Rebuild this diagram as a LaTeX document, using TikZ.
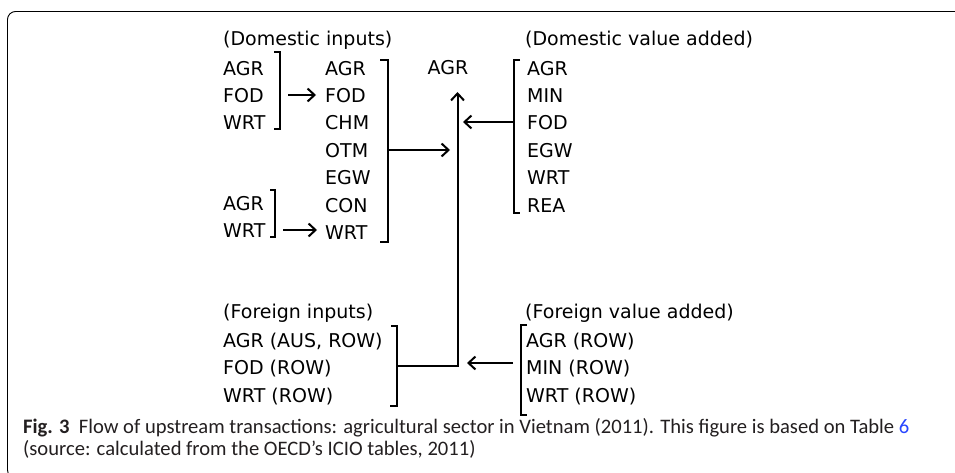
\documentclass[tikz,border=0pt]{standalone}
\usepackage{fontspec}
\setmainfont{DejaVu Sans}
\newfontfamily\capfont{Carlito}
\usetikzlibrary{arrows.meta,positioning}
\definecolor{captext}{RGB}{35,31,32}
\definecolor{linkblue}{RGB}{40,70,255}

\begin{document}
\begin{tikzpicture}[x=1pt, y=1pt, >={Straight Barb[length=7pt,width=13pt]},
  font=\fontsize{19}{22}\selectfont, node distance=9pt and 0pt,
  item/.style={inner sep=0pt, text height=14pt, text depth=4pt, anchor=north west},
  head/.style={inner sep=0pt, anchor=base west},
  capline/.style={inner sep=0pt, anchor=base west, text=captext, font=\capfont\fontsize{20.6}{24}\selectfont},
  brk/.style={line width=2.1pt},
  flow/.style={->, line width=2pt}]
\useasboundingbox (0,0) rectangle (955,-473);
\clip (0,0) rectangle (955,-473);
\draw[line width=0.9pt, rounded corners=8pt] (7.5,-11.5) rectangle (975,-478);

\node[head] (dih) at (223,-46) {(Domestic inputs)};
\node[item] (a1) at (223,-61) {AGR};
\node[item, below right=of a1.south west] (a2) {FOD};
\node[item, below right=of a2.south west] (a3) {WRT};
\node[item] (a4) at (223,-196) {AGR};
\node[item, below right=of a4.south west] (a5) {WRT};

\node[item] (i1) at (325,-61) {AGR};
\node[item, below right=of i1.south west] (i2) {FOD};
\node[item, below right=of i2.south west] (i3) {CHM};
\node[item, below right=of i3.south west] (i4) {OTM};
\node[item, below right=of i4.south west] (i5) {EGW};
\node[item, below right=of i5.south west] (i6) {CON};
\node[item, below right=of i6.south west] (i7) {WRT};

\node[head, anchor=base] (out) at (448,-75) {AGR};

\node[head] (dvh) at (525,-46) {(Domestic value added)};
\node[item] (v1) at (527,-61) {AGR};
\node[item, below right=of v1.south west] (v2) {MIN};
\node[item, below right=of v2.south west] (v3) {FOD};
\node[item, below right=of v3.south west] (v4) {EGW};
\node[item, below right=of v4.south west] (v5) {WRT};
\node[item, below right=of v5.south west] (v6) {REA};

\node[head] (fih) at (223,-318) {(Foreign inputs)};
\node[item] (f1) at (223,-333) {AGR (AUS, ROW)};
\node[item, below right=of f1.south west] (f2) {FOD (ROW)};
\node[item, below right=of f2.south west] (f3) {WRT (ROW)};

\node[head] (fvh) at (525,-318) {(Foreign value added)};
\node[item] (r1) at (526,-333) {AGR (ROW)};
\node[item, below right=of r1.south west] (r2) {MIN (ROW)};
\node[item, below right=of r2.south west] (r3) {WRT (ROW)};

\draw[brk] (274,-52) -| (280,-129) -- (274,-129);
\draw[brk] (380,-60) -| (388,-242) -- (380,-242);
\draw[brk] (270,-190) -| (275,-237) -- (270,-237);
\draw[brk] (520,-60) -| (514,-213) -- (520,-213);
\draw[brk] (391,-326) -| (397,-406) -- (390,-406);
\draw[brk] (527,-325) -| (521,-415) -- (527,-415);

\coordinate (tip) at (457.5,-92);
\coordinate (s1) at (288,-95);
\coordinate (s2) at (283,-230);
\coordinate (s3) at (388,-150);
\coordinate (s4) at (514,-122);
\coordinate (s5) at (397,-366);
\coordinate (s6) at (513,-363);
\draw[flow, shorten >=9pt] (s1) -- (s1 -| i2.west);
\draw[flow, shorten >=8pt] (s2) -- (s2 -| i7.west);
\draw[flow, shorten >=7.5pt] (s3) -- (s3 -| tip);
\draw[flow, shorten >=5.5pt] (s4) -- (s4 -| tip);
\draw[flow] (s5) -| (tip);
\draw[flow, shorten >=9.5pt] (s6) -- (s6 -| tip);

\node[capline] (cap1) at (23,-433) {\textbf{Fig. 3}\hspace{0.45em}Flow of upstream transactions: agricultural sector in Vietnam (2011). This figure is based on Table \textcolor{linkblue}{6}};
\node[capline] (cap2) at (23,-455) {(source: calculated from the OECD’s ICIO tables, 2011)};
\end{tikzpicture}
\end{document}
